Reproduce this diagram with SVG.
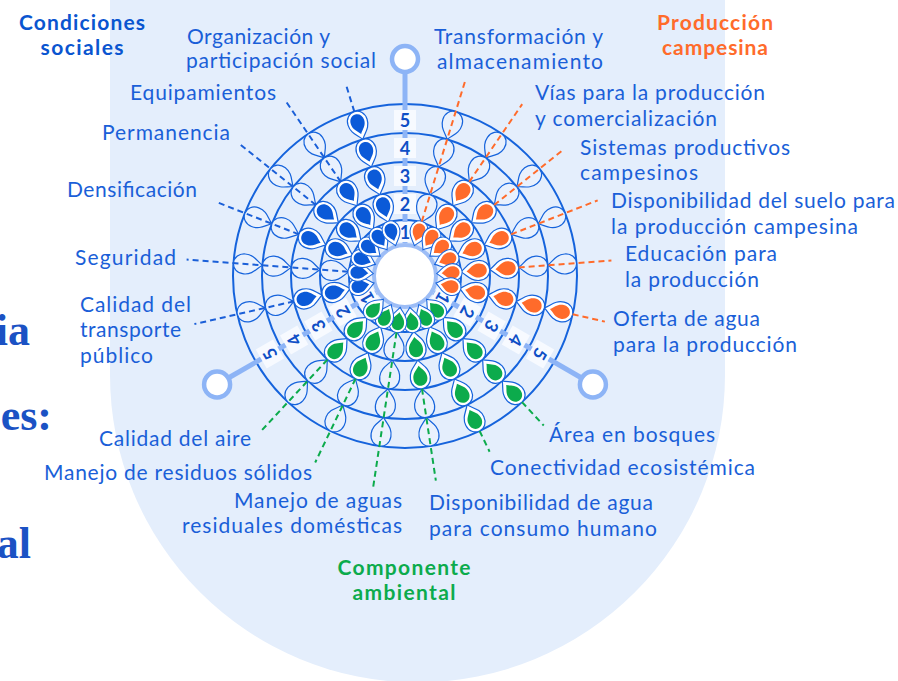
<svg xmlns="http://www.w3.org/2000/svg" width="898" height="681" viewBox="0 0 898 681">
<style>
.lb{font-family:Lato,"Liberation Sans",sans-serif;font-size:21px;fill:#1a5fd8}
.tt{font-family:Lato,"Liberation Sans",sans-serif;font-size:21px;font-weight:700;text-anchor:middle}
.num{font-family:Lato,"Liberation Sans",sans-serif;font-size:18px;font-weight:700;fill:#0f4fc6;text-anchor:middle}
.big{font-family:"Liberation Serif",serif;font-size:44px;font-weight:700;fill:#1b52c4;text-anchor:end}
.ring{fill:none;stroke:#1563dc;stroke-width:2}
.e{fill:#e9f1fd;stroke:#1563dc;stroke-width:1.2}
.f{fill:#fff;stroke:#1563dc;stroke-width:1.2}
.cb{fill:#0b5ad8}.co{fill:#ff6b2b}.cg{fill:#0cab4c}
.dash{fill:none;stroke-width:2;stroke-dasharray:6 4}
.db{stroke:#1a5fd8}.do{stroke:#ff6b2b}.dg{stroke:#0cab4c}
.axis{stroke:#8db4f6;stroke-width:5}
.handle{fill:#fff;stroke:#8db4f6;stroke-width:4.5}
.box{fill:#f7faff}
</style>
<defs>
<path id="d" d="M-15 0 C-9 -4 -6 -10 3 -10 C9.5 -10 14 -5.5 14 0 C14 5.5 9.5 10 3 10 C-6 10 -9 4 -15 0Z"/>
<g id="e1"><use href="#d" class="e" transform="translate(45 0) scale(0.88)"/></g>
<g id="e2"><use href="#d" class="e" transform="translate(71 0)"/></g>
<g id="e3"><use href="#d" class="e" transform="translate(100 0)"/></g>
<g id="e4"><use href="#d" class="e" transform="translate(129 0)"/></g>
<g id="e5"><use href="#d" class="e" transform="translate(158 0)"/></g>
<g id="w1"><use href="#d" class="f" transform="translate(45 0) scale(0.88)"/></g>
<g id="w2"><use href="#d" class="f" transform="translate(71 0)"/></g>
<g id="w3"><use href="#d" class="f" transform="translate(100 0)"/></g>
<g id="w4"><use href="#d" class="f" transform="translate(129 0)"/></g>
<g id="w5"><use href="#d" class="f" transform="translate(158 0)"/></g>
<g id="i1"><use href="#d" transform="translate(46 0) scale(0.62)"/></g>
<g id="i2"><use href="#d" transform="translate(72.2 0) scale(0.7)"/></g>
<g id="i3"><use href="#d" transform="translate(101.2 0) scale(0.7)"/></g>
<g id="i4"><use href="#d" transform="translate(130.2 0) scale(0.7)"/></g>
<g id="i5"><use href="#d" transform="translate(159.2 0) scale(0.7)"/></g>
</defs>

<rect width="898" height="681" fill="#fff"/>
<path d="M110 -10 V375 A307.5 307.5 0 0 0 725 375 V-10 Z" fill="#e4eefc"/>

<text class="big" x="30" y="345">ia</text>
<text class="big" x="52" y="430">es:</text>
<text class="big" x="31" y="558">al</text>

<g id="rings">
<circle class="ring" cx="405" cy="276" r="56"/>
<circle class="ring" cx="405" cy="276" r="85"/>
<circle class="ring" cx="405" cy="276" r="114"/>
<circle class="ring" cx="405" cy="276" r="143"/>
<circle class="ring" cx="405" cy="276" r="172"/>
</g>

<g id="axes">
<g transform="translate(405 276)">
<line class="axis" x1="33" y1="0" x2="204" y2="0" transform="rotate(-90)"/>
<line class="axis" x1="33" y1="0" x2="204" y2="0" transform="rotate(30)"/>
<line class="axis" x1="33" y1="0" x2="204" y2="0" transform="rotate(150)"/>
<circle class="handle" cx="0" cy="-217" r="13"/>
<circle class="handle" cx="187.9" cy="108.5" r="13"/>
<circle class="handle" cx="-187.9" cy="108.5" r="13"/>
</g>
<g id="scale-top" transform="translate(405 276) rotate(-90)">
<g transform="translate(44 0) rotate(90)"><rect class="box" x="-11" y="-10" width="22" height="20"/><text class="num" y="6.5">1</text></g>
<g transform="translate(72 0) rotate(90)"><rect class="box" x="-11" y="-10" width="22" height="20"/><text class="num" y="6.5">2</text></g>
<g transform="translate(100 0) rotate(90)"><rect class="box" x="-11" y="-10" width="22" height="20"/><text class="num" y="6.5">3</text></g>
<g transform="translate(128 0) rotate(90)"><rect class="box" x="-11" y="-10" width="22" height="20"/><text class="num" y="6.5">4</text></g>
<g transform="translate(156 0) rotate(90)"><rect class="box" x="-11" y="-10" width="22" height="20"/><text class="num" y="6.5">5</text></g>
</g>
<g id="scale-right" transform="translate(405 276) rotate(30)">
<g transform="translate(44 0) rotate(90)"><rect class="box" x="-11" y="-10" width="22" height="20"/><text class="num" y="6.5">1</text></g>
<g transform="translate(72 0) rotate(90)"><rect class="box" x="-11" y="-10" width="22" height="20"/><text class="num" y="6.5">2</text></g>
<g transform="translate(100 0) rotate(90)"><rect class="box" x="-11" y="-10" width="22" height="20"/><text class="num" y="6.5">3</text></g>
<g transform="translate(128 0) rotate(90)"><rect class="box" x="-11" y="-10" width="22" height="20"/><text class="num" y="6.5">4</text></g>
<g transform="translate(156 0) rotate(90)"><rect class="box" x="-11" y="-10" width="22" height="20"/><text class="num" y="6.5">5</text></g>
</g>
<g id="scale-left" transform="translate(405 276) rotate(150)">
<g transform="translate(44 0) rotate(90)"><rect class="box" x="-11" y="-10" width="22" height="20"/><text class="num" y="6.5">1</text></g>
<g transform="translate(72 0) rotate(90)"><rect class="box" x="-11" y="-10" width="22" height="20"/><text class="num" y="6.5">2</text></g>
<g transform="translate(100 0) rotate(90)"><rect class="box" x="-11" y="-10" width="22" height="20"/><text class="num" y="6.5">3</text></g>
<g transform="translate(128 0) rotate(90)"><rect class="box" x="-11" y="-10" width="22" height="20"/><text class="num" y="6.5">4</text></g>
<g transform="translate(156 0) rotate(90)"><rect class="box" x="-11" y="-10" width="22" height="20"/><text class="num" y="6.5">5</text></g>
</g>
</g>

<circle id="center" cx="405" cy="276" r="31" fill="#fff" stroke="#9dbdf6" stroke-width="4"/>

<!-- Condiciones sociales -->
<g id="n-transporte">
<g transform="translate(405 276) rotate(167.14)"><use href="#e5"/><use href="#e4"/><use href="#w3"/><use href="#i3" class="cb"/><use href="#w2"/><use href="#i2" class="cb"/><use href="#w1"/><use href="#i1" class="cb"/></g>
<text class="lb" x="80" y="312" textLength="111" lengthAdjust="spacing">Calidad del</text>
<text class="lb" x="80" y="337" textLength="101" lengthAdjust="spacing">transporte</text>
<text class="lb" x="80" y="363" textLength="73" lengthAdjust="spacing">público</text>
</g>
<g id="n-seguridad">
<g transform="translate(405 276) rotate(184.29)"><use href="#e5"/><use href="#e4"/><use href="#e3"/><use href="#e2"/><use href="#w1"/><use href="#i1" class="cb"/></g>
<text class="lb" x="75" y="265" textLength="101" lengthAdjust="spacing">Seguridad</text>
</g>
<g id="n-densificacion">
<g transform="translate(405 276) rotate(201.43)"><use href="#e5"/><use href="#e4"/><use href="#w3"/><use href="#i3" class="cb"/><use href="#w2"/><use href="#i2" class="cb"/><use href="#w1"/><use href="#i1" class="cb"/></g>
<text class="lb" x="67" y="197" textLength="130" lengthAdjust="spacing">Densificación</text>
</g>
<g id="n-permanencia">
<g transform="translate(405 276) rotate(218.57)"><use href="#e5"/><use href="#e4"/><use href="#w3"/><use href="#i3" class="cb"/><use href="#w2"/><use href="#i2" class="cb"/><use href="#w1"/><use href="#i1" class="cb"/></g>
<text class="lb" x="102" y="140" textLength="128" lengthAdjust="spacing">Permanencia</text>
</g>
<g id="n-equipamientos">
<g transform="translate(405 276) rotate(235.71)"><use href="#e5"/><use href="#e4"/><use href="#w3"/><use href="#i3" class="cb"/><use href="#w2"/><use href="#i2" class="cb"/><use href="#w1"/><use href="#i1" class="cb"/></g>
<text class="lb" x="130" y="100" textLength="146" lengthAdjust="spacing">Equipamientos</text>
</g>
<g id="n-organizacion">
<g transform="translate(405 276) rotate(252.86)"><use href="#w5"/><use href="#i5" class="cb"/><use href="#w4"/><use href="#i4" class="cb"/><use href="#w3"/><use href="#i3" class="cb"/><use href="#w2"/><use href="#i2" class="cb"/><use href="#w1"/><use href="#i1" class="cb"/></g>
<text class="lb" x="187" y="44" textLength="143" lengthAdjust="spacing">Organización y</text>
<text class="lb" x="186" y="68" textLength="190" lengthAdjust="spacing">participación social</text>
</g>

<!-- Producción campesina -->
<g id="n-transformacion">
<g transform="translate(405 276) rotate(-72.86)"><use href="#e5"/><use href="#e4"/><use href="#e3"/><use href="#e2"/><use href="#w1"/><use href="#i1" class="co"/></g>
<text class="lb" x="434" y="44" textLength="169" lengthAdjust="spacing">Transformación y</text>
<text class="lb" x="437" y="69" textLength="166" lengthAdjust="spacing">almacenamiento</text>
</g>
<g id="n-vias">
<g transform="translate(405 276) rotate(-55.71)"><use href="#e5"/><use href="#e4"/><use href="#w3"/><use href="#i3" class="co"/><use href="#w2"/><use href="#i2" class="co"/><use href="#w1"/><use href="#i1" class="co"/></g>
<text class="lb" x="535" y="100" textLength="230" lengthAdjust="spacing">Vías para la producción</text>
<text class="lb" x="535" y="126" textLength="182" lengthAdjust="spacing">y comercialización</text>
</g>
<g id="n-sistemas">
<g transform="translate(405 276) rotate(-38.57)"><use href="#e5"/><use href="#e4"/><use href="#w3"/><use href="#i3" class="co"/><use href="#w2"/><use href="#i2" class="co"/><use href="#w1"/><use href="#i1" class="co"/></g>
<text class="lb" x="580" y="155" textLength="210" lengthAdjust="spacing">Sistemas productivos</text>
<text class="lb" x="580" y="180" textLength="118" lengthAdjust="spacing">campesinos</text>
</g>
<g id="n-suelo">
<g transform="translate(405 276) rotate(-21.43)"><use href="#e5"/><use href="#e4"/><use href="#w3"/><use href="#i3" class="co"/><use href="#w2"/><use href="#i2" class="co"/><use href="#w1"/><use href="#i1" class="co"/></g>
<text class="lb" x="611" y="208" textLength="284" lengthAdjust="spacing">Disponibilidad del suelo para</text>
<text class="lb" x="611" y="234" textLength="247" lengthAdjust="spacing">la producción campesina</text>
</g>
<g id="n-educacion">
<g transform="translate(405 276) rotate(-4.29)"><use href="#e5"/><use href="#e4"/><use href="#w3"/><use href="#i3" class="co"/><use href="#w2"/><use href="#i2" class="co"/><use href="#w1"/><use href="#i1" class="co"/></g>
<text class="lb" x="625" y="261" textLength="152" lengthAdjust="spacing">Educación para</text>
<text class="lb" x="625" y="287" textLength="134" lengthAdjust="spacing">la producción</text>
</g>
<g id="n-oferta">
<g transform="translate(405 276) rotate(12.86)"><use href="#w5"/><use href="#i5" class="co"/><use href="#w4"/><use href="#i4" class="co"/><use href="#w3"/><use href="#i3" class="co"/><use href="#w2"/><use href="#i2" class="co"/><use href="#w1"/><use href="#i1" class="co"/></g>
<text class="lb" x="613" y="326" textLength="147" lengthAdjust="spacing">Oferta de agua</text>
<text class="lb" x="613" y="352" textLength="184" lengthAdjust="spacing">para la producción</text>
</g>

<!-- Componente ambiental -->
<g id="n-bosques">
<g transform="translate(405 276) rotate(47.14)"><use href="#w5"/><use href="#i5" class="cg"/><use href="#w4"/><use href="#i4" class="cg"/><use href="#w3"/><use href="#i3" class="cg"/><use href="#w2"/><use href="#i2" class="cg"/><use href="#w1"/><use href="#i1" class="cg"/></g>
<text class="lb" x="549" y="442" textLength="166" lengthAdjust="spacing">Área en bosques</text>
</g>
<g id="n-conectividad">
<g transform="translate(405 276) rotate(64.29)"><use href="#w5"/><use href="#i5" class="cg"/><use href="#w4"/><use href="#i4" class="cg"/><use href="#w3"/><use href="#i3" class="cg"/><use href="#w2"/><use href="#i2" class="cg"/><use href="#w1"/><use href="#i1" class="cg"/></g>
<text class="lb" x="490" y="475" textLength="265" lengthAdjust="spacing">Conectividad ecosistémica</text>
</g>
<g id="n-agua-consumo">
<g transform="translate(405 276) rotate(81.43)"><use href="#e5"/><use href="#e4"/><use href="#w3"/><use href="#i3" class="cg"/><use href="#w2"/><use href="#i2" class="cg"/><use href="#w1"/><use href="#i1" class="cg"/></g>
<text class="lb" x="429" y="510" textLength="224" lengthAdjust="spacing">Disponibilidad de agua</text>
<text class="lb" x="429" y="536" textLength="228" lengthAdjust="spacing">para consumo humano</text>
</g>
<g id="n-aguas-residuales">
<g transform="translate(405 276) rotate(98.57)"><use href="#e5"/><use href="#e4"/><use href="#e3"/><use href="#e2"/><use href="#w1"/><use href="#i1" class="cg"/></g>
<text class="lb" x="402" y="508" text-anchor="end" textLength="168" lengthAdjust="spacing">Manejo de aguas</text>
<text class="lb" x="402" y="533" text-anchor="end" textLength="220" lengthAdjust="spacing">residuales domésticas</text>
</g>
<g id="n-residuos">
<g transform="translate(405 276) rotate(115.71)"><use href="#e5"/><use href="#e4"/><use href="#w3"/><use href="#i3" class="cg"/><use href="#w2"/><use href="#i2" class="cg"/><use href="#w1"/><use href="#i1" class="cg"/></g>
<text class="lb" x="44" y="480" textLength="268" lengthAdjust="spacing">Manejo de residuos sólidos</text>
</g>
<g id="n-aire">
<g transform="translate(405 276) rotate(132.86)"><use href="#e5"/><use href="#e4"/><use href="#w3"/><use href="#i3" class="cg"/><use href="#w2"/><use href="#i2" class="cg"/><use href="#w1"/><use href="#i1" class="cg"/></g>
<text class="lb" x="99" y="446" textLength="152" lengthAdjust="spacing">Calidad del aire</text>
</g>

<g id="connectors" transform="translate(405 276)">
<line class="dash db" x1="114" y1="0" x2="216" y2="0" transform="rotate(167.14)"/>
<line class="dash db" x1="57" y1="0" x2="219" y2="0" transform="rotate(184.29)"/>
<line class="dash db" x1="114" y1="0" x2="203" y2="0" transform="rotate(201.43)"/>
<line class="dash db" x1="114" y1="0" x2="213" y2="0" transform="rotate(218.57)"/>
<line class="dash db" x1="114" y1="0" x2="212" y2="0" transform="rotate(235.71)"/>
<line class="dash db" x1="172" y1="0" x2="201" y2="0" transform="rotate(252.86)"/>
<line class="dash do" x1="57" y1="0" x2="204" y2="0" transform="rotate(-72.86)"/>
<line class="dash do" x1="114" y1="0" x2="208" y2="0" transform="rotate(-55.71)"/>
<line class="dash do" x1="114" y1="0" x2="202" y2="0" transform="rotate(-38.57)"/>
<line class="dash do" x1="114" y1="0" x2="207" y2="0" transform="rotate(-21.43)"/>
<line class="dash do" x1="114" y1="0" x2="207" y2="0" transform="rotate(-4.29)"/>
<line class="dash do" x1="172" y1="0" x2="205" y2="0" transform="rotate(12.86)"/>
<line class="dash dg" x1="172" y1="0" x2="204" y2="0" transform="rotate(47.14)"/>
<line class="dash dg" x1="172" y1="0" x2="195" y2="0" transform="rotate(64.29)"/>
<line class="dash dg" x1="114" y1="0" x2="207" y2="0" transform="rotate(81.43)"/>
<line class="dash dg" x1="57" y1="0" x2="213" y2="0" transform="rotate(98.57)"/>
<line class="dash dg" x1="114" y1="0" x2="207" y2="0" transform="rotate(115.71)"/>
<line class="dash dg" x1="114" y1="0" x2="212" y2="0" transform="rotate(132.86)"/>
</g>

<g id="titles">
<text class="tt" x="82" y="30" fill="#0a55d0" textLength="126" lengthAdjust="spacing">Condiciones</text>
<text class="tt" x="82" y="55" fill="#0a55d0" textLength="83" lengthAdjust="spacing">sociales</text>
<text class="tt" x="715" y="30" fill="#ff6b2b" textLength="116" lengthAdjust="spacing">Producción</text>
<text class="tt" x="715" y="55" fill="#ff6b2b" textLength="106" lengthAdjust="spacing">campesina</text>
<text class="tt" x="404" y="575" fill="#0cab4c" textLength="133" lengthAdjust="spacing">Componente</text>
<text class="tt" x="404" y="600" fill="#0cab4c" textLength="103" lengthAdjust="spacing">ambiental</text>
</g>
</svg>
